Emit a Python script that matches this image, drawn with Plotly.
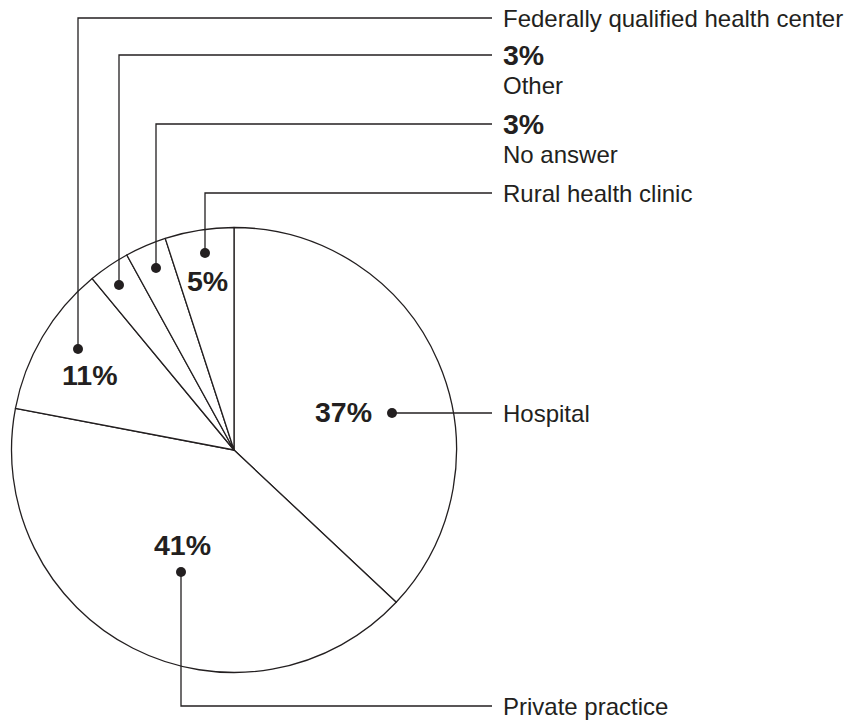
import plotly.graph_objects as go

# ---- data ----
categories = ["Hospital", "Private practice", "Federally qualified health center",
              "Other", "No answer", "Rural health clinic"]
values = [37, 41, 11, 3, 3, 5]

# ---- layout helpers (pixel space of the 849x722 canvas) ----
W, H = 849, 722
CX, CY, R = 234, 450, 222.5
INK = "#231f20"
FONT = "Liberation Sans, Arial, Helvetica, sans-serif"

# per category: dot position, label y, where pct label goes
dot_pos = {
    "Hospital": (392, 413),
    "Private practice": (181, 572),
    "Federally qualified health center": (78, 349),
    "Other": (119, 285),
    "No answer": (156, 268),
    "Rural health clinic": (205, 253),
}
label_y = {
    "Hospital": 413,
    "Private practice": 706,
    "Federally qualified health center": 18,
    "Other": 55,
    "No answer": 124,
    "Rural health clinic": 193,
}
inside_pct = {  # percentage drawn inside the pie
    "Hospital": (343, 412),
    "Private practice": (182, 545),
    "Federally qualified health center": (89, 375),
    "Rural health clinic": (207, 281),
}
LINE_END = 492
TEXT_X = 501
DOT_R = 5

fig = go.Figure()
fig.add_trace(go.Pie(
    labels=categories, values=values, sort=False, direction="clockwise",
    rotation=0, textinfo="none", hoverinfo="label+percent",
    marker=dict(colors=["white"] * len(values), line=dict(color=INK, width=1.3)),
    domain=dict(x=[(CX - R) / W, (CX + R) / W],
                y=[(H - CY - R) / H, (H - CY + R) / H]),
    showlegend=False,
))

shapes = []
annotations = []
for cat, v in zip(categories, values):
    x0, y0 = dot_pos[cat]
    ly = label_y[cat]
    if cat == "Hospital":
        path = f"M {x0},{y0} L {LINE_END},{ly}"
    else:
        path = f"M {x0},{y0} L {x0},{ly} L {LINE_END},{ly}"
    shapes.append(dict(type="path", path=path, xref="x", yref="y",
                       line=dict(color=INK, width=1.3)))
    shapes.append(dict(type="circle", xref="x", yref="y",
                       x0=x0 - DOT_R, x1=x0 + DOT_R, y0=y0 - DOT_R, y1=y0 + DOT_R,
                       fillcolor=INK, line=dict(width=0)))
    pct = f"{v}%"
    if cat in inside_pct:
        px, py = inside_pct[cat]
        annotations.append(dict(x=px, y=py, xref="x", yref="y", text=f"<b>{pct}</b>",
                                showarrow=False, xanchor="center", yanchor="middle",
                                font=dict(family=FONT, size=28.5, color=INK)))
        annotations.append(dict(x=TEXT_X, y=ly, xref="x", yref="y", text=cat,
                                showarrow=False, xanchor="left", yanchor="middle",
                                font=dict(family=FONT, size=24, color=INK)))
    else:
        annotations.append(dict(x=TEXT_X, y=ly, xref="x", yref="y", text=f"<b>{pct}</b>",
                                showarrow=False, xanchor="left", yanchor="middle",
                                font=dict(family=FONT, size=28.5, color=INK)))
        annotations.append(dict(x=TEXT_X, y=ly + 30, xref="x", yref="y", text=cat,
                                showarrow=False, xanchor="left", yanchor="middle",
                                font=dict(family=FONT, size=24, color=INK)))

fig.update_layout(
    width=W, height=H, margin=dict(l=0, r=0, t=0, b=0),
    paper_bgcolor="white", plot_bgcolor="rgba(0,0,0,0)",
    xaxis=dict(range=[0, W], visible=False, fixedrange=True, domain=[0, 1]),
    yaxis=dict(range=[H, 0], visible=False, fixedrange=True, domain=[0, 1]),
    shapes=shapes, annotations=annotations,
)
fig.write_html("out.html", config={"displayModeBar": False},
               post_script="document.body.style.margin='0';document.body.style.overflow='hidden';")
